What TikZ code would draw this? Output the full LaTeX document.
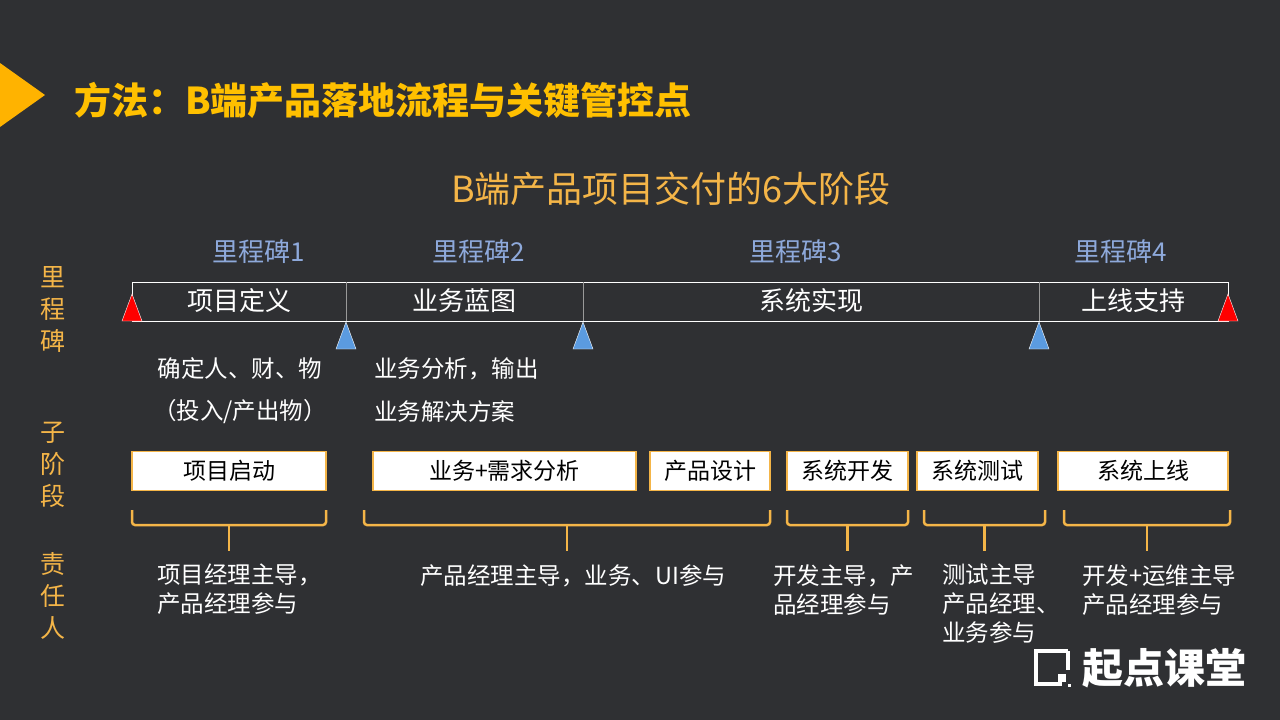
\documentclass[tikz,border=0pt]{standalone}
\usepackage{fontspec}
\setmainfont{Noto Sans CJK SC}
\definecolor{bgc}{HTML}{2F3033}
\definecolor{gold}{HTML}{FFC000}
\definecolor{ochre}{HTML}{F4B548}
\definecolor{msblue}{HTML}{8EA9DB}
\definecolor{triblue}{HTML}{5B9BE0}
\tikzset{
    txt/.style={text=white,font=\fontsize{23.5}{29}\selectfont,inner sep=0pt},
    side/.style={text=ochre,font=\fontsize{25}{32}\selectfont,inner sep=0pt,align=center},
    ms/.style={text=msblue,font=\fontsize{26}{30}\selectfont,inner sep=0pt},
    subbox/.style={draw=ochre,line width=1.2pt,fill=white,text=black,
        font=\fontsize{23}{26}\selectfont},
    brc/.style={draw=ochre,line width=2.5pt,rounded corners=3pt}
}
\begin{document}
\begin{tikzpicture}[x=1pt,y=-1pt]
    \fill[bgc] (0,0) rectangle (1280,720);
    \useasboundingbox (0,0) rectangle (1280,720);
    % title
    \fill[gold!80!orange] (0,63)--(45,95)--(0,127)--cycle;
    \node[anchor=west,text=gold,font=\fontsize{37}{42}\selectfont\bfseries,inner sep=0pt] (title) at (74,100) {方法：B端产品落地流程与关键管控点};
    \node[text=ochre,font=\fontsize{36}{40}\selectfont,inner sep=0pt] (sub) at (671,189) {B端产品项目交付的6大阶段};
    % side labels
    \node[side] (l1) at (53,309) {里\\程\\碑};
    \node[side] (l2) at (53,465) {子\\阶\\段};
    \node[side] (l3) at (53,596) {责\\任\\人};
    % milestones
    \foreach \x/\n in {259/1,479/2,796/3,1121/4}
        \node[ms] (ms\n) at (\x,252) {里程碑\n};
    % phase bar
    \draw[white,line width=1pt] (132,282) rectangle (1228,321);
    \foreach \x in {346,583,1039}
        \draw[gray!80,line width=1pt] (\x,282)--(\x,321);
    \foreach \x/\t/\n in {239/项目定义/p1,464/业务蓝图/p2,811/系统实现/p3,1133/上线支持/p4}
        \node[txt,font=\fontsize{26}{30}\selectfont] (\n) at (\x,301) {\t};
    \foreach \x in {132,1228}
        \fill[red,draw=white,line width=0.4pt] (\x-10,321)--(\x,294)--(\x+10,321)--cycle;
    \foreach \x in {346,583,1039}
        \fill[triblue,draw=white,line width=0.4pt] (\x-10,349)--(\x,322)--(\x+10,349)--cycle;
    % notes
    \node[txt] (n1) at (240,369) {确定人、财、物};
    \node[txt] (n2) at (240,412) {（投入/产出物）};
    \node[txt,anchor=west] (n3) at (374,369) {业务分析，输出};
    \node[txt,anchor=west] (n4) at (374,412) {业务解决方案};
    % sub phases
    \foreach \a/\b/\t/\n in {132/326/项目启动/s1,373/636/业务+需求分析/s2,650/770/产品设计/s3,
        787/908/系统开发/s4,917/1038/系统测试/s5,1058/1228/系统上线/s6}
        \node[subbox,minimum width=\b-\a,minimum height=39] (\n) at ({(\a+\b)/2},471) {\t};
    % brackets
    \foreach \a/\b in {132/326,364/770,787/908,924/1045,1064/1230}{
        \draw[brc] (\a,510)--(\a,525)--(\b,525)--(\b,510);
        \draw[ochre,line width=2.5pt] ({(\a+\b)/2},525)--({(\a+\b)/2},551);
    }
    % owners
    \node[txt,anchor=north west,align=left] (o1) at (157,564) {项目经理主导，\\产品经理参与};
    \node[txt,anchor=north west,align=left] (o2) at (420,564) {产品经理主导，业务、UI参与};
    \node[txt,anchor=north west,align=left] (o3) at (773,564) {开发主导，产\\品经理参与};
    \node[txt,anchor=north west,align=left] (o4) at (942,564) {测试主导\\产品经理、\\业务参与};
    \node[txt,anchor=north west,align=left] (o5) at (1082,564) {开发+运维主导\\产品经理参与};
    % logo
    \draw[white,line width=4pt] (1068,651)--(1036,651)--(1036,684)--(1062,684);
    \draw[white,line width=4pt] (1068,651)--(1068,670);
    \fill[white] (1058,674) rectangle (1066,682);
    \fill[white] (1068,684) rectangle (1071,687);
    \node[anchor=west,text=white,font=\fontsize{41}{44}\selectfont\bfseries,inner sep=0pt] (logo) at (1082,668) {起点课堂};
\end{tikzpicture}
\end{document}
